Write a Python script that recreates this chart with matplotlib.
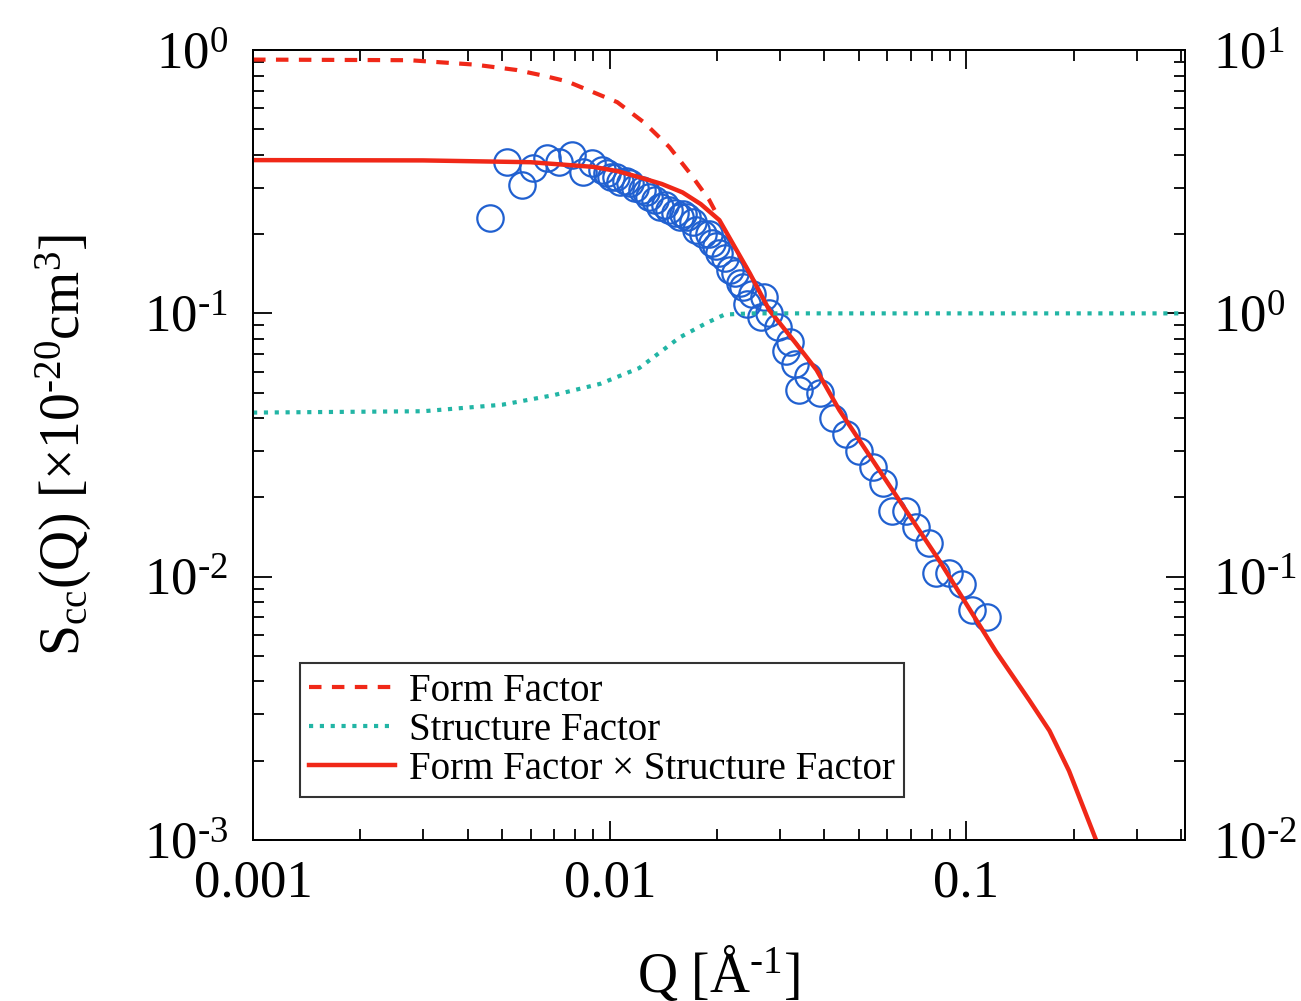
import matplotlib
matplotlib.use("Agg")
import matplotlib.pyplot as plt
from matplotlib.ticker import LogLocator, FixedLocator, FixedFormatter, NullFormatter, FuncFormatter
import numpy as np

plt.rcParams['font.family'] = ['Liberation Serif', 'DejaVu Serif']
plt.rcParams['mathtext.fontset'] = 'custom'
plt.rcParams['mathtext.rm'] = 'Liberation Serif'
plt.rcParams['mathtext.it'] = 'Liberation Serif:italic'

# form factor (left axis), dashed
ff_q = [0.001, 0.00275, 0.0042, 0.00548, 0.0065, 0.0076, 0.0088, 0.0105, 0.0125,
        0.0147, 0.0168, 0.019, 0.0203]
ff_s = [0.92, 0.915, 0.88, 0.84, 0.80, 0.76, 0.70, 0.634, 0.53, 0.428, 0.34, 0.27, 0.228]

# structure factor (right axis), dotted
sf_q = [0.001, 0.003, 0.005, 0.007, 0.0094, 0.0121, 0.0157, 0.0187, 0.021, 0.025, 0.05, 0.1, 0.2, 0.4]
sf_s = [0.42, 0.425, 0.45, 0.49, 0.54, 0.62, 0.81, 0.92, 0.99, 1.0, 1.0, 1.0, 1.0, 1.0]

# product (left axis), solid
pr_q = [0.001, 0.003, 0.006, 0.009, 0.0105, 0.0121, 0.014, 0.016, 0.018, 0.0203, 0.0247,
        0.028, 0.033, 0.038, 0.044, 0.065, 0.084, 0.121, 0.15, 0.171, 0.194, 0.231]
pr_s = [0.382, 0.381, 0.375, 0.36, 0.347, 0.329, 0.31, 0.288, 0.26, 0.226, 0.142,
        0.103, 0.078, 0.061, 0.043, 0.0194, 0.0115, 0.0052, 0.0034, 0.0026, 0.00183, 0.001]

# measured data, open circles
dat_q = [0.00461, 0.00514, 0.00566, 0.00608, 0.00666, 0.0072, 0.00784, 0.0084, 0.0089, 0.0095,
         0.0098, 0.0101, 0.0104, 0.0107, 0.0111, 0.0114, 0.0118, 0.0123, 0.0126, 0.0129, 0.0134,
         0.0138, 0.0143, 0.0147, 0.0152, 0.0157, 0.0161, 0.0165, 0.0171, 0.0175,
         0.0183, 0.019, 0.0194, 0.0198, 0.0203, 0.0210, 0.0217, 0.0225, 0.0232, 0.0236, 0.0242,
         0.025, 0.0265, 0.027, 0.028, 0.0296, 0.0313, 0.032, 0.033, 0.034, 0.036, 0.0389, 0.0422,
         0.046, 0.050, 0.0547, 0.0582, 0.0620, 0.0675, 0.0722, 0.0784, 0.082, 0.0892, 0.097,
         0.104, 0.114]
dat_s = [0.23, 0.375, 0.307, 0.356, 0.388, 0.375, 0.399, 0.344, 0.372, 0.35,
         0.34, 0.329, 0.33, 0.315, 0.318, 0.312, 0.3, 0.294, 0.29, 0.276, 0.27,
         0.253, 0.258, 0.246, 0.24, 0.232, 0.238, 0.232, 0.222, 0.207,
         0.201, 0.201, 0.185, 0.18, 0.169, 0.163, 0.146, 0.142, 0.13, 0.126, 0.109,
         0.118, 0.097, 0.115, 0.1, 0.089, 0.072, 0.078, 0.0645, 0.051, 0.058, 0.0497, 0.040,
         0.0348, 0.030, 0.026, 0.0226, 0.0178, 0.0178, 0.0154, 0.0134, 0.0103, 0.0103, 0.0094,
         0.0075, 0.0070]

red = '#f02818'
teal = '#22b5a5'
blue = '#2060d0'


def exp_label(v, pos):
    e = int(round(np.log10(v)))
    if e < 0:
        return '$\\mathregular{10^{\\text{-}%d}}$' % (-e)
    return '$\\mathregular{10^{%d}}$' % e


fig = plt.figure(figsize=(13.01, 10.01), dpi=100)
ax = fig.add_axes([0.1945, 0.1608, 0.7163, 0.7892])
ax2 = ax.twinx()

l1, = ax.plot(ff_q, ff_s, color=red, ls=(0, (3, 2.5)), lw=3, label='Form Factor', zorder=3)
l3, = ax.plot(pr_q, pr_s, color=red, lw=3.2, label='Form Factor × Structure Factor', zorder=4)
ax.plot(dat_q, dat_s, 'o', ms=19, mfc='none', mec=blue, mew=1.6, zorder=3)
l2, = ax2.plot(sf_q, sf_s, color=teal, ls=(0, (1, 1.6)), lw=3, label='Structure Factor')

ax.set_xscale('log')
ax.set_yscale('log')
ax2.set_yscale('log')
ax.set_xlim(0.001, 0.41)
ax.set_ylim(1e-3, 1)
ax2.set_ylim(1e-2, 10)

ax.xaxis.set_major_locator(FixedLocator([0.001, 0.01, 0.1]))
ax.xaxis.set_major_formatter(FixedFormatter(['0.001', '0.01', '0.1']))
ax.xaxis.set_minor_locator(LogLocator(base=10, subs=range(2, 10)))
ax.xaxis.set_minor_formatter(NullFormatter())
for a in (ax, ax2):
    a.yaxis.set_major_formatter(FuncFormatter(exp_label))
    a.yaxis.set_minor_locator(LogLocator(base=10, subs=range(2, 10)))
    a.yaxis.set_minor_formatter(NullFormatter())

ax.tick_params(which='both', direction='in', top=True, right=False, labelsize=38, width=1.3)
ax.tick_params(which='major', length=14)
ax.tick_params(which='minor', length=8)
ax.tick_params(axis='x', pad=14)
ax.tick_params(axis='y', pad=18)
ax2.tick_params(which='both', direction='in', labelsize=38, width=1.3, pad=20)
ax2.tick_params(which='major', length=14)
ax2.tick_params(which='minor', length=8)
for a in (ax, ax2):
    for s in a.spines.values():
        s.set_linewidth(1.3)

ax.set_xlabel('Q [Å$^{\\text{-}1}$]', fontsize=40, labelpad=26)
ax.set_ylabel('S$_{\\rm cc}$(Q) [×10$^{\\text{-}20}$cm$^{3}$]', fontsize=40, labelpad=36)

leg = ax2.legend(handles=[l1, l2, l3], loc='lower left', bbox_to_anchor=(0.05, 0.054),
                 borderaxespad=0, fontsize=28, frameon=True, fancybox=False,
                 handlelength=2.2, handletextpad=0.35, labelspacing=0.05, borderpad=0.25)
leg.get_frame().set_edgecolor('black')
leg.get_frame().set_linewidth(1.5)

fig.savefig('out.png', dpi=100)
